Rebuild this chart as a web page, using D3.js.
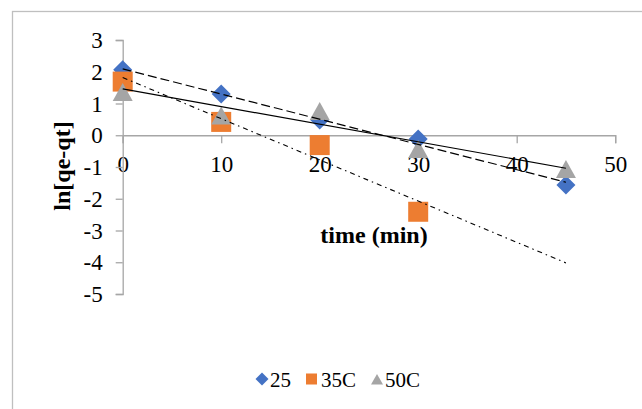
<!DOCTYPE html>
<html>
<head>
<meta charset="utf-8">
<script src="https://cdn.jsdelivr.net/npm/d3@7"></script>
<style>
  body { margin: 0; background: #fff; }
  svg text { font-family: "Liberation Serif", "Times New Roman", Times, serif; }
</style>
</head>
<body>
<div id="chart"></div>
<script>
// values
const times = [0, 10, 20, 30, 45];
const series25 = [2.06, 1.30, 0.48, -0.12, -1.57];
const series35 = [1.69, 0.42, -0.31, -2.41];
const series50 = [1.36, 0.62, 0.76, -0.43, -1.06];

// linear trendlines (start at t=0, end at t=45)
const trendX = [0, 45];
const trend25 = [2.09, -1.48];
const trend35 = [1.82, -4.02];
const trend50 = [1.46, -1.04];

const xTicks = [0, 10, 20, 30, 40, 50];
const yTicks = [-5, -4, -3, -2, -1, 0, 1, 2, 3];
const legendLabels = ["25", "35C", "50C"];

const serif = '"Liberation Serif", "Times New Roman", Times, serif';

const svg = d3.select("#chart")
    .append("svg")
    .attr("width", 642)
    .attr("height", 409)
    .attr("font-family", serif);

// chart area border (only left and top edges visible)
svg.append("rect")
    .attr("x", 12.5)
    .attr("y", 11.5)
    .attr("width", 700)
    .attr("height", 500)
    .attr("fill", "none")
    .attr("stroke", "#bfbfbf")
    .attr("stroke-width", 1.3);

const xScale = d3.scaleLinear().domain([0, 50]).range([122.7, 615.2]);
const yScale = d3.scaleLinear().domain([-5, 3]).range([294, 40]);

const axisColor = "#a6a6a6";

const yAxis = svg.append("g")
    .attr("transform", `translate(${xScale(0)},0)`)
    .call(d3.axisLeft(yScale).tickValues(yTicks).tickSize(7).tickPadding(13).tickFormat(d => String(d)));

const xAxis = svg.append("g")
    .attr("transform", `translate(0,${yScale(0)})`)
    .call(d3.axisBottom(xScale).tickValues(xTicks).tickSize(8).tickPadding(12).tickFormat(d => String(d)));

[xAxis, yAxis].forEach(g => {
    g.attr("font-family", serif).attr("font-size", 23);
    g.selectAll("path, line").attr("stroke", axisColor).attr("stroke-width", 1.3);
    g.selectAll("text").attr("fill", "#000");
});
yAxis.selectAll("text").attr("dy", "0.33em");
yAxis.raise();

// markers
function drawDiamonds(g, xs, ys, r, color) {
    g.selectAll(null)
        .data(ys)
        .enter()
        .append("path")
        .attr("d", `M0,${-r}L${r},0L0,${r}L${-r},0Z`)
        .attr("transform", (d, i) => `translate(${xScale(xs[i])},${yScale(d)})`)
        .attr("fill", color);
}
function drawSquares(g, xs, ys, s, color) {
    g.selectAll(null)
        .data(ys)
        .enter()
        .append("rect")
        .attr("x", (d, i) => xScale(xs[i]) - s / 2)
        .attr("y", d => yScale(d) - s / 2)
        .attr("width", s)
        .attr("height", s)
        .attr("fill", color);
}
function drawTriangles(g, xs, ys, w, h, color) {
    g.selectAll(null)
        .data(ys)
        .enter()
        .append("path")
        .attr("d", `M0,${-h / 2}L${w / 2},${h / 2}L${-w / 2},${h / 2}Z`)
        .attr("transform", (d, i) => `translate(${xScale(xs[i])},${yScale(d)})`)
        .attr("fill", color);
}

const marks = svg.append("g");
drawDiamonds(marks, times, series25, 9.5, "#4472c4");
drawSquares(marks, times, series35, 20, "#ed7d31");
drawTriangles(marks, times, series50, 20, 18, "#a5a5a5");

// trendlines
const line = d3.line()
    .x((d, i) => xScale(trendX[i]))
    .y(d => yScale(d));

svg.append("path")
    .attr("d", line(trend25))
    .attr("fill", "none")
    .attr("stroke", "#000")
    .attr("stroke-width", 1.2)
    .attr("stroke-dasharray", "9,4");

svg.append("path")
    .attr("d", line(trend35))
    .attr("fill", "none")
    .attr("stroke", "#000")
    .attr("stroke-width", 1.1)
    .attr("stroke-dasharray", "5,4,1.5,4");

svg.append("path")
    .attr("d", line(trend50))
    .attr("fill", "none")
    .attr("stroke", "#000")
    .attr("stroke-width", 1.2);

// axis titles
svg.append("text")
    .attr("text-anchor", "middle")
    .attr("transform", "translate(70,166)rotate(-90)")
    .attr("font-size", 24)
    .attr("font-weight", "bold")
    .text("ln[qe-qt]");

svg.append("text")
    .attr("text-anchor", "middle")
    .attr("x", 374)
    .attr("y", 243)
    .attr("font-size", 24)
    .attr("font-weight", "bold")
    .text("time (min)");

// legend
const legend = svg.append("g").attr("transform", "translate(0,379)");
legend.append("path")
    .attr("d", "M262,-6.5L268.5,0L262,6.5L255.5,0Z")
    .attr("fill", "#4472c4");
legend.append("rect")
    .attr("x", 306).attr("y", -5.5).attr("width", 11).attr("height", 11)
    .attr("fill", "#ed7d31");
legend.append("path")
    .attr("d", "M377,-5L383,5.5L371,5.5Z")
    .attr("fill", "#a5a5a5");

const legendX = [270, 321, 385];
legend.selectAll(".legend-text")
    .data(legendLabels)
    .enter()
    .append("text")
    .attr("class", "legend-text")
    .attr("x", (d, i) => legendX[i])
    .attr("y", 7.5)
    .attr("font-size", 21)
    .text(d => d);
</script>
</body>
</html>
